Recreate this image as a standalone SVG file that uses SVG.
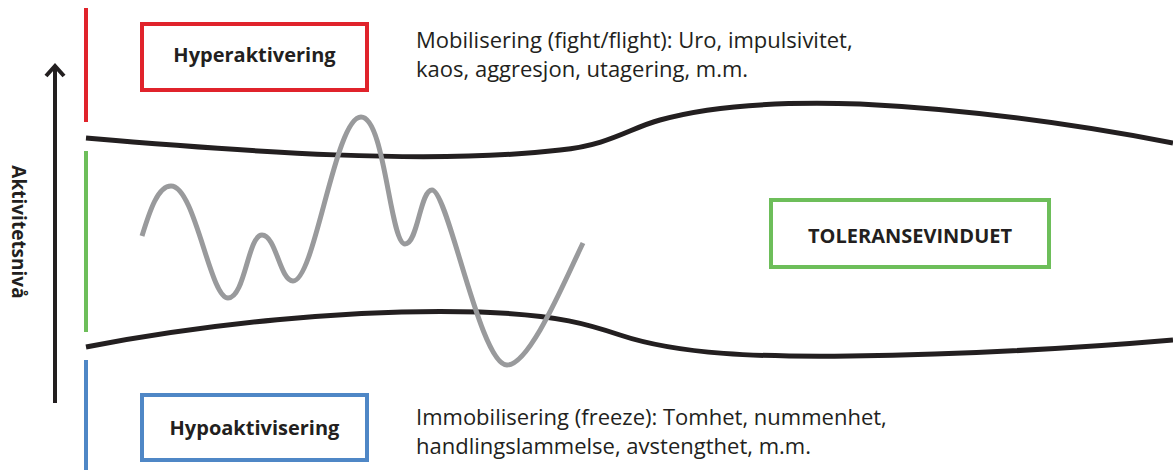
<svg xmlns="http://www.w3.org/2000/svg" width="1173" height="470" viewBox="0 0 1173 470">
<defs>
<style>
.bound{fill:none;stroke:#231f20;stroke-width:5}
.wave{fill:none;stroke:#999a9c;stroke-width:5;stroke-linecap:butt}
.lbl{font-family:"Open Sans","Liberation Sans",sans-serif;font-weight:bold;font-size:20px;fill:#231f20;text-anchor:middle}
.desc{font-family:"Open Sans","Liberation Sans",sans-serif;font-size:22px;fill:#231f20}
.box{fill:#fff;stroke-width:4}
</style>
</defs>
<rect width="1173" height="470" fill="#fff"/>
<g id="axis">
<line x1="55" y1="403" x2="55" y2="66" stroke="#231f20" stroke-width="4"/>
<polyline points="46,76 55,66 64,76" fill="none" stroke="#231f20" stroke-width="4"/>
<text class="lbl" transform="translate(12,232) rotate(90)" style="font-size:19px">Aktivitetsnivå</text>
</g>
<g id="zones">
<line x1="86" y1="8" x2="86" y2="122" stroke="#e0232b" stroke-width="4"/>
<line x1="86" y1="151" x2="86" y2="332" stroke="#6dbe5a" stroke-width="4"/>
<line x1="86" y1="360" x2="86" y2="470" stroke="#4f87c6" stroke-width="4"/>
</g>
<g id="connectors">
<path class="bound" d="M86,138 C250,152 430,165 560,150 C610,145 630,128 660,120 C720,103 800,102 860,104 C980,110 1080,125 1173,143"/>
<path class="bound" d="M86,347 C200,325 350,308 480,312 C560,315 590,325 620,335 C680,355 760,357 850,356 C980,354 1080,348 1173,340"/>
<path class="wave" d="M142,236 C150,210 158,186 171,186 C195,186 210,298 228,298 C245,298 248,235 262,235 C276,235 280,281 293,281 C315,281 335,117 361,117 C385,117 390,244 405,244 C418,244 420,190 432,190 C448,190 480,365 507,365 C530,365 565,280 583,243"/>
</g>
<g id="hyper">
<rect class="box" x="142" y="24" width="225" height="66" stroke="#e0232b"/>
<text class="lbl" x="254.5" y="62">Hyperaktivering</text>
</g>
<g id="hypo">
<rect class="box" x="142" y="395" width="225" height="65" stroke="#4f87c6"/>
<text class="lbl" x="254.5" y="435">Hypoaktivisering</text>
</g>
<g id="toleranse">
<rect class="box" x="771" y="200" width="278" height="67" stroke="#6dbe5a"/>
<text class="lbl" x="910" y="243">TOLERANSEVINDUET</text>
</g>
<g id="desc-hyper">
<text class="desc" x="416" y="48">Mobilisering (fight/flight): Uro, impulsivitet,</text>
<text class="desc" x="416" y="77">kaos, aggresjon, utagering, m.m.</text>
</g>
<g id="desc-hypo">
<text class="desc" x="416" y="425">Immobilisering (freeze): Tomhet, nummenhet,</text>
<text class="desc" x="416" y="454">handlingslammelse, avstengthet, m.m.</text>
</g>
</svg>
